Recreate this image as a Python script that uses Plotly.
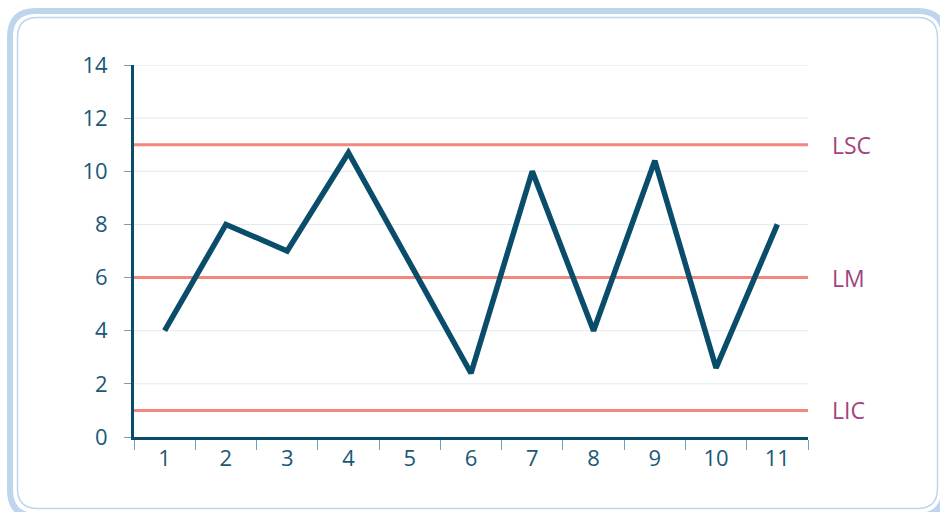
import plotly.graph_objects as go

# ---- data ----
categories = ["1", "2", "3", "4", "5", "6", "7", "8", "9", "10", "11"]
values = [4, 8, 7, 10.7, 6.55, 2.4, 10, 4, 10.4, 2.6, 8]
ref_names = ["LSC", "LM", "LIC"]
ref_values = [11, 6, 1]
y_ticks = [0, 2, 4, 6, 8, 10, 12, 14]

# ---- layout geometry (pixels) ----
W, H = 940, 512
ML, MR, MT, MB = 134, 132, 65, 75
PW, PH = W - ML - MR, H - MT - MB

def px(x):
    return (x - ML) / PW

def py(y):
    return (H - MB - y) / PH

def rrect(x0, y0, x1, y1, r):
    pts = []
    pts.append(f"M {px(x0 + r)},{py(y0)}")
    pts.append(f"L {px(x1 - r)},{py(y0)}")
    pts.append(f"Q {px(x1)},{py(y0)} {px(x1)},{py(y0 + r)}")
    pts.append(f"L {px(x1)},{py(y1 - r)}")
    pts.append(f"Q {px(x1)},{py(y1)} {px(x1 - r)},{py(y1)}")
    pts.append(f"L {px(x0 + r)},{py(y1)}")
    pts.append(f"Q {px(x0)},{py(y1)} {px(x0)},{py(y1 - r)}")
    pts.append(f"L {px(x0)},{py(y0 + r)}")
    pts.append(f"Q {px(x0)},{py(y0)} {px(x0 + r)},{py(y0)} Z")
    return " ".join(pts)

DARK = "#0a4d6b"
TICKTXT = "#1a5877"
SALMON = "#f4867e"
LABEL = "#a3437f"
BORDER = "#bdd6ee"
GRID = "#e2e9f1"
TICKC = "#6f9fbe"
FONT = "Open Sans"

fig = go.Figure()
fig.add_trace(go.Scatter(
    x=categories, y=values, mode="lines",
    line=dict(color=DARK, width=5.5),
    hoverinfo="skip", showlegend=False,
))

shapes = []
# border
shapes.append(dict(type="path", xref="paper", yref="paper",
                   path=rrect(10, 11, 944, 516, 26),
                   line=dict(color=BORDER, width=6), layer="below"))
shapes.append(dict(type="path", xref="paper", yref="paper",
                   path=rrect(17.5, 17.5, 937.5, 508.5, 20),
                   line=dict(color=BORDER, width=1.5), layer="below"))
# gridlines
for v in y_ticks[1:]:
    shapes.append(dict(type="line", xref="paper", yref="y", x0=0, x1=1, y0=v, y1=v,
                       line=dict(color=GRID, width=1), layer="below"))
# reference lines
for v in ref_values:
    shapes.append(dict(type="line", xref="paper", yref="y", x0=0, x1=1, y0=v, y1=v,
                       line=dict(color=SALMON, width=3), layer="below"))

annotations = []
for name, v in zip(ref_names, ref_values):
    annotations.append(dict(xref="paper", yref="y", x=px(830), y=v, text=name,
                            showarrow=False, xanchor="left", yanchor="middle",
                            font=dict(family=FONT, size=23, color=LABEL)))

fig.update_layout(
    width=W, height=H,
    margin=dict(l=ML, r=MR, t=MT, b=MB),
    paper_bgcolor="white", plot_bgcolor="white",
    shapes=shapes, annotations=annotations,
    font=dict(family=FONT, size=22, color=TICKTXT),
    xaxis=dict(type="category", range=[-0.5, 10.5], showgrid=False,
               showline=True, linecolor=DARK, linewidth=3,
               ticks="outside", tickson="boundaries", ticklen=10, tickwidth=1,
               tickcolor=TICKC, tickfont=dict(family=FONT, size=22, color=TICKTXT),
               zeroline=False),
    yaxis=dict(range=[0, 14], tickvals=y_ticks, showgrid=False,
               showline=True, linecolor=DARK, linewidth=3,
               ticks="outside", ticklen=7, tickwidth=1, tickcolor=TICKC,
               ticklabelstandoff=12,
               tickfont=dict(family=FONT, size=22, color=TICKTXT), zeroline=False),
)

fig.write_html("out.html")
